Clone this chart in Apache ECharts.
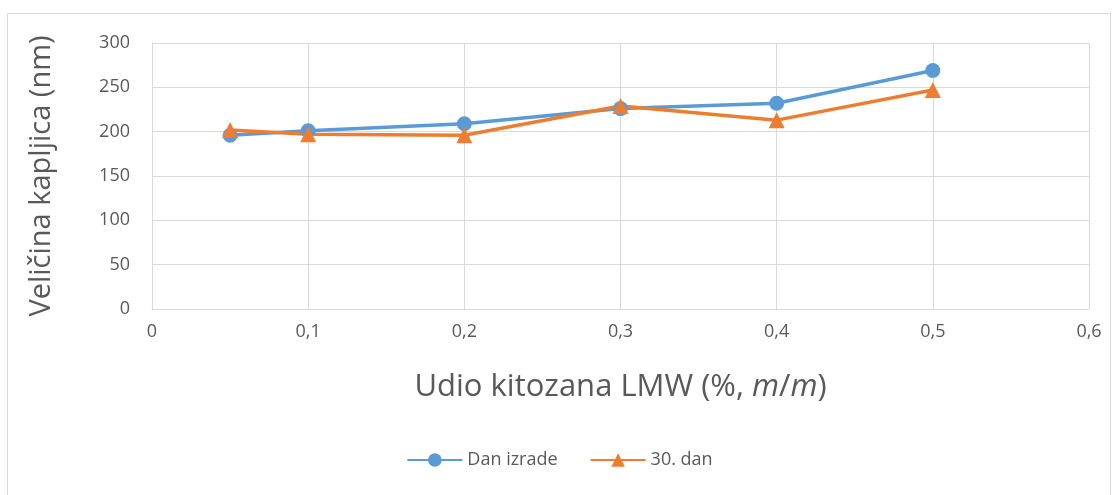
<!DOCTYPE html>
<html>
<head>
<meta charset="utf-8">
<script src="https://cdn.jsdelivr.net/npm/echarts@6/dist/echarts.min.js"></script>
<style>
  html, body { margin: 0; padding: 0; background: #fff; }
  #chart { width: 1119px; height: 495px; }
</style>
</head>
<body>
<div id="chart"></div>
<script>
// udio kitozana (x) i veličina kapljica (nm)
const udio = [0.05, 0.1, 0.2, 0.3, 0.4, 0.5]
const danIzrade = [196, 201, 209, 226, 232, 269]
const dan30 = [202, 197, 196, 229, 213, 247]
const seriesNames = ['Dan izrade', '30. dan']

const font = '"Open Sans", "Noto Sans", sans-serif'
const grey = '#595959'

const chart = echarts.init(document.getElementById('chart'))
const option = {
  animation: false,
  textStyle: { fontFamily: font },
  graphic: [{
    type: 'rect',
    shape: { x: 7.5, y: 13.5, width: 1103, height: 500 },
    style: { fill: 'none', stroke: '#d9d9d9', lineWidth: 1 }
  }],
  grid: { left: 152, right: 30, top: 43, bottom: 186 },
  legend: {
    bottom: 21,
    left: 'center',
    itemWidth: 55,
    itemHeight: 17,
    itemGap: 32,
    textStyle: { fontSize: 18, color: grey, fontFamily: font },
    data: seriesNames
  },
  xAxis: {
    type: 'value',
    min: 0,
    max: 0.6,
    interval: 0.1,
    name: '{n|Udio kitozana LMW (%, }{i|m}{n|/}{i|m}{n|)}',
    nameLocation: 'middle',
    nameGap: 63,
    nameTextStyle: {
      rich: {
        n: { fontSize: 31, color: grey, fontFamily: font },
        i: { fontSize: 31, color: grey, fontFamily: font, fontStyle: 'italic' }
      }
    },
    axisLine: { lineStyle: { color: '#d9d9d9', width: 1 } },
    axisTick: { show: false },
    splitLine: { show: true, lineStyle: { color: '#d9d9d9', width: 1 } },
    axisLabel: {
      fontSize: 18,
      color: grey,
      margin: 14,
      formatter: v => String(Math.round(v * 10) / 10).replace('.', ',')
    }
  },
  yAxis: {
    type: 'value',
    min: 0,
    max: 300,
    interval: 50,
    name: 'Veličina kapljica (nm)',
    nameLocation: 'middle',
    nameGap: 96,
    nameTextStyle: { fontSize: 29, color: grey, fontFamily: font },
    axisLine: { show: true, lineStyle: { color: '#d9d9d9', width: 1 } },
    axisTick: { show: false },
    splitLine: { lineStyle: { color: '#d9d9d9', width: 1 } },
    axisLabel: { fontSize: 18, color: grey, margin: 22 }
  },
  series: [
    {
      name: seriesNames[0],
      type: 'line',
      data: udio.map((x, i) => [x, danIzrade[i]]),
      symbol: 'circle',
      symbolSize: 15,
      lineStyle: { color: '#5b9bd5', width: 3.5 },
      itemStyle: { color: '#5b9bd5' }
    },
    {
      name: seriesNames[1],
      type: 'line',
      data: udio.map((x, i) => [x, dan30[i]]),
      symbol: 'triangle',
      symbolSize: 16,
      lineStyle: { color: '#ed7d31', width: 3.5 },
      itemStyle: { color: '#ed7d31' }
    }
  ]
}
chart.setOption(option)
window.addEventListener('resize', function () {
  chart.resize()
})
</script>
</body>
</html>
